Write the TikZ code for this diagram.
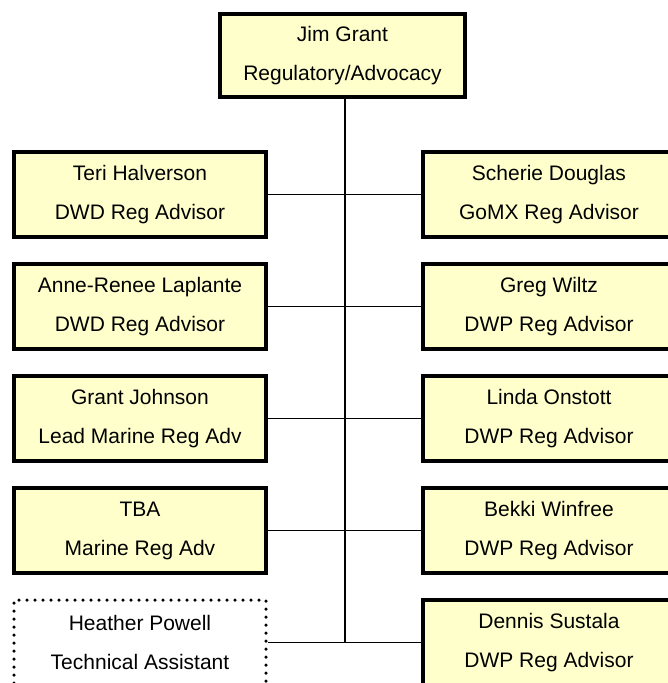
\documentclass[tikz,border=0pt]{standalone}
\usepackage{fontspec}
\setmainfont{Liberation Sans}
\usetikzlibrary{positioning}
\definecolor{boxfill}{HTML}{FFFFCC}

\begin{document}
\begin{tikzpicture}[x=1pt,y=-1pt,
  staff/.style={draw,line width=4pt,fill=boxfill,align=center,
    minimum width=252pt,minimum height=85pt,inner sep=0pt,
    font=\fontsize{21}{39}\selectfont},
  vacant/.style={staff,fill=white,dash pattern=on 0pt off 8pt,line cap=round,line width=3.5pt},
  link/.style={line width=1.3pt}]
\useasboundingbox (0,0) rectangle (668,683);
\clip (0,0) rectangle (668,683);
%\draw[] (0,0) grid (668,683);
\node[staff,minimum width=245pt,minimum height=83pt] (jim) at (342.5,55.5) {Jim Grant\\Regulatory/Advocacy};
% left column
\node[staff] (teri) at (140,194.5) {Teri Halverson\\DWD Reg Advisor};
\node[staff] (anne) at (140,306.5) {Anne-Renee Laplante\\DWD Reg Advisor};
\node[staff] (grant) at (140,418.5) {Grant Johnson\\Lead Marine Reg Adv};
\node[staff] (tba) at (140,530.5) {TBA\\Marine Reg Adv};
\node[vacant] (heather) at (140,642.5) {Heather Powell\\Technical Assistant};
% right column
\node[staff] (scherie) at (549,194.5) {Scherie Douglas\\GoMX Reg Advisor};
\node[staff] (greg) at (549,306.5) {Greg Wiltz\\DWP Reg Advisor};
\node[staff] (linda) at (549,418.5) {Linda Onstott\\DWP Reg Advisor};
\node[staff] (bekki) at (549,530.5) {Bekki Winfree\\DWP Reg Advisor};
\node[staff] (dennis) at (549,642.5) {Dennis Sustala\\DWP Reg Advisor};
% spine and branches
\coordinate (spine) at (345,642.5);
\draw[link] (jim.south -| spine) -- (spine);
\draw[link] (teri.east) -- (scherie.west);
\draw[link] (anne.east) -- (greg.west);
\draw[link] (grant.east) -- (linda.west);
\draw[link] (tba.east) -- (bekki.west);
\draw[link] (heather.east) -- (dennis.west);
\end{tikzpicture}
\end{document}
